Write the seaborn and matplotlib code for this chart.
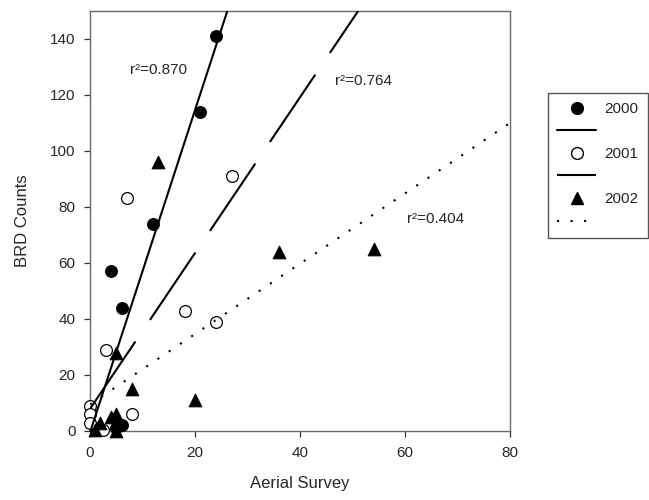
import matplotlib
matplotlib.use("Agg")
import matplotlib.pyplot as plt
from matplotlib.lines import Line2D
import seaborn as sns

# data
x2000 = [24, 21, 12, 4, 6, 6, 1, 5]
y2000 = [141, 114, 74, 57, 44, 2, 1, 1]

x2001 = [27, 7, 18, 24, 3, 0, 0, 0, 2.5, 8]
y2001 = [91, 83, 43, 39, 29, 9, 6, 3, 0.5, 6]

x2002 = [13, 36, 54, 5, 8, 20, 1, 2, 4, 5, 5.5, 5]
y2002 = [96, 64, 65, 28, 15, 11, 0.5, 3, 5, 6, 2.5, 0]

# regression lines (intercept, slope) and r^2 labels
years = ["2000", "2001", "2002"]
fit_intercept = [-0.5, 7.9, 9.5]
fit_slope = [5.75, 2.78, 1.255]
r2_labels = ["r\u00b2=0.870", "r\u00b2=0.764", "r\u00b2=0.404"]
r2_x = [7.6, 46.7, 60.3]
r2_y = [129, 125, 75.5]

sns.set_style("ticks")
plt.rcParams["font.family"] = ["Liberation Sans", "DejaVu Sans"]
plt.rcParams["font.size"] = 11

fig = plt.figure(figsize=(6.49, 5.0), dpi=100)
ax = fig.add_axes([90 / 649, 69 / 500, 420 / 649, 420.3 / 500])
ax.set_xlim(0, 80)
ax.set_ylim(0, 150)

ms = 72
sns.scatterplot(x=x2000, y=y2000, ax=ax, marker="o", s=ms, color="black",
                edgecolor="black", linewidth=0.8, clip_on=False, zorder=3)
sns.scatterplot(x=x2001, y=y2001, ax=ax, marker="o", s=ms, color="white",
                edgecolor="black", linewidth=0.9, clip_on=False, zorder=3)
sns.scatterplot(x=x2002, y=y2002, ax=ax, marker="^", s=ms + 10, color="black",
                edgecolor="black", linewidth=0.8, clip_on=False, zorder=3)

styles = ["-", (0, (39, 12.5)), (0, (1, 5.5))]
for b, m, ls in zip(fit_intercept, fit_slope, styles):
    ax.axline((0, b), slope=m, color="black", lw=1.5, linestyle=ls, zorder=4)

for lab, tx, ty in zip(r2_labels, r2_x, r2_y):
    ax.text(tx, ty, lab, ha="left", va="center", fontsize=11)

ax.set_xticks([0, 20, 40, 60, 80])
ax.set_yticks(range(0, 141, 20))
ax.tick_params(direction="out", length=4.5, width=0.9, color="#333333",
               labelsize=11, pad=6, top=False, right=False)
for sp in ax.spines.values():
    sp.set_visible(True)
    sp.set_color("#6a6a6a")
    sp.set_linewidth(1.0)
ax.set_xlabel("Aerial Survey", fontsize=12, labelpad=12)
ax.set_ylabel("BRD Counts", fontsize=12, labelpad=14)

handles = [
    Line2D([], [], marker="o", ls="none", color="black", markersize=8.5),
    Line2D([], [], ls="-", color="black", lw=1.5),
    Line2D([], [], marker="o", ls="none", markerfacecolor="white",
           markeredgecolor="black", markersize=8.5),
    Line2D([], [], ls=styles[1], color="black", lw=1.5),
    Line2D([], [], marker="^", ls="none", color="black", markersize=8.5),
    Line2D([], [], ls=styles[2], color="black", lw=1.5),
]
labels = ["2000", " ", "2001", " ", "2002", " "]
leg = ax.legend(handles, labels, loc="upper left",
                bbox_to_anchor=(548 / 649, 1 - 93 / 500),
                bbox_transform=fig.transFigure, borderaxespad=0,
                fancybox=False, framealpha=1, edgecolor="#555555",
                fontsize=11, handlelength=2.55, handletextpad=0.55,
                borderpad=0.6, labelspacing=0.56)
leg.get_frame().set_linewidth(1.0)

fig.savefig("out.png", dpi=100)
